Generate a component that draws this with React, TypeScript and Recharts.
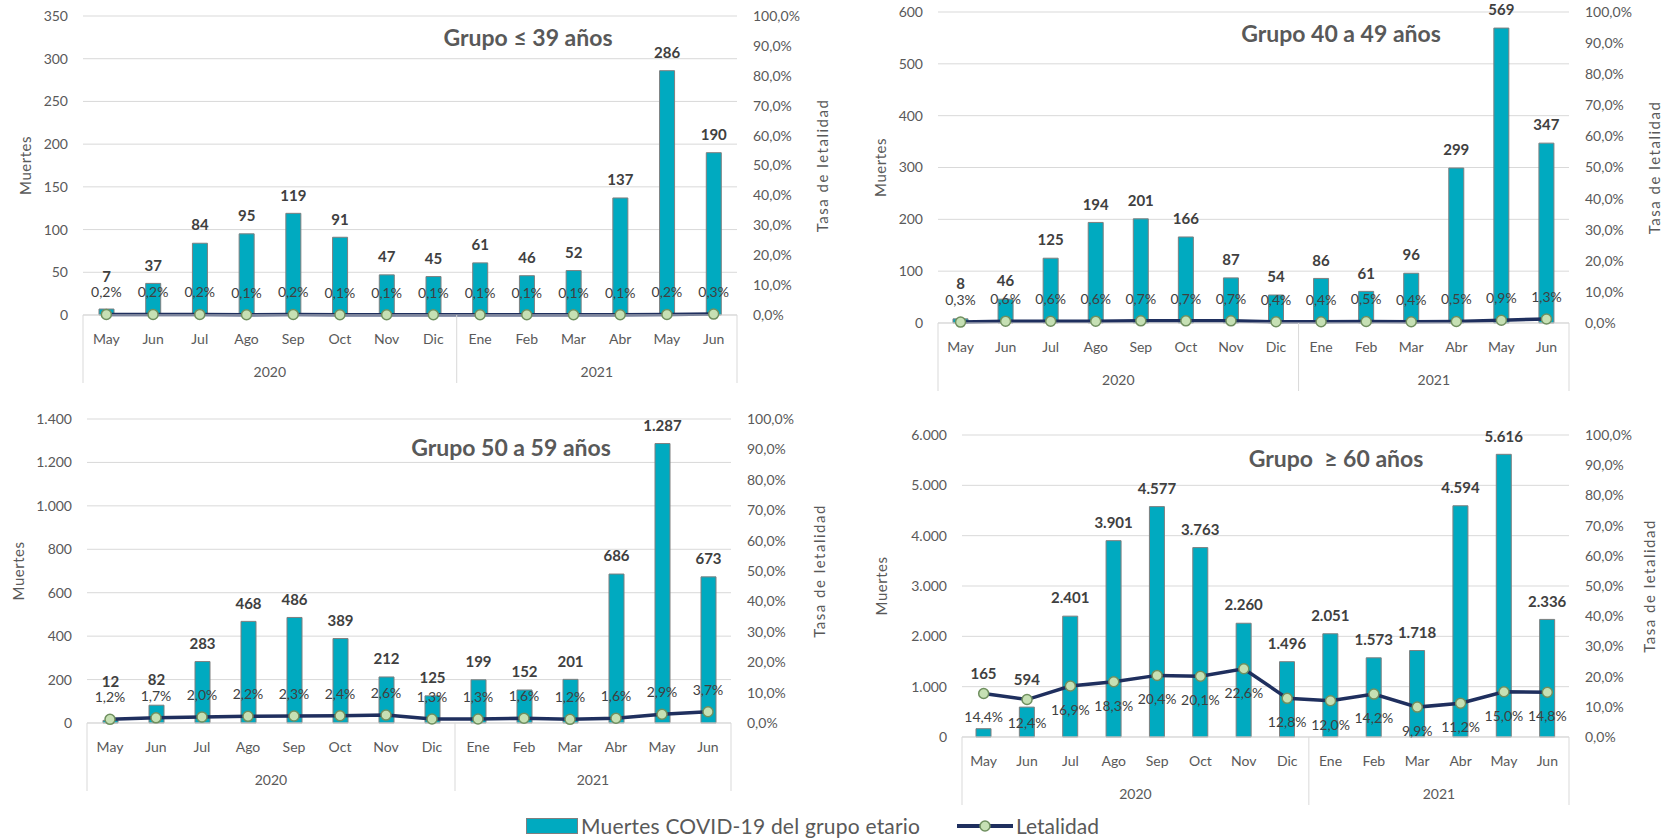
import React from 'react';
import { ComposedChart, Bar, Line, XAxis, YAxis, CartesianGrid, LabelList } from 'recharts';

// categories
const months = ['May', 'Jun', 'Jul', 'Ago', 'Sep', 'Oct', 'Nov', 'Dic', 'Ene', 'Feb', 'Mar', 'Abr', 'May', 'Jun'];
const yearGroups = [
  { label: '2020', from: 0, to: 7 },
  { label: '2021', from: 8, to: 13 },
];

// Grupo <= 39
const deaths39 = [7, 37, 84, 95, 119, 91, 47, 45, 61, 46, 52, 137, 286, 190];
const rate39 = [0.2, 0.2, 0.2, 0.1, 0.2, 0.1, 0.1, 0.1, 0.1, 0.1, 0.1, 0.1, 0.2, 0.3];
const ticks39 = [0, 50, 100, 150, 200, 250, 300, 350];

// Grupo 40-49
const deaths40 = [8, 46, 125, 194, 201, 166, 87, 54, 86, 61, 96, 299, 569, 347];
const rate40 = [0.3, 0.6, 0.6, 0.6, 0.7, 0.7, 0.7, 0.4, 0.4, 0.5, 0.4, 0.5, 0.9, 1.3];
const ticks40 = [0, 100, 200, 300, 400, 500, 600];

// Grupo 50-59
const deaths50 = [12, 82, 283, 468, 486, 389, 212, 125, 199, 152, 201, 686, 1287, 673];
const rate50 = [1.2, 1.7, 2.0, 2.2, 2.3, 2.4, 2.6, 1.3, 1.3, 1.6, 1.2, 1.6, 2.9, 3.7];
const ticks50 = [0, 200, 400, 600, 800, 1000, 1200, 1400];

// Grupo >= 60
const deaths60 = [165, 594, 2401, 3901, 4577, 3763, 2260, 1496, 2051, 1573, 1718, 4594, 5616, 2336];
const rate60 = [14.4, 12.4, 16.9, 18.3, 20.4, 20.1, 22.6, 12.8, 12.0, 14.2, 9.9, 11.2, 15.0, 14.8];
const ticks60 = [0, 1000, 2000, 3000, 4000, 5000, 6000];

const pctTicks = [0, 10, 20, 30, 40, 50, 60, 70, 80, 90, 100];

const TEAL = '#00AAC0';
const NAVY = '#1F2F5E';
const GRID = '#d9d9d9';
const AXIS_TXT = '#595959';
const LABEL_TXT = '#404040';
const FONT = 'Lato, "Liberation Sans", sans-serif';

const SIDE = 100;
const PAD_TOP = 20;
const AXIS_H = 80;

const fmtInt = (n: number) => String(n).replace(/\B(?=(\d{3})+(?!\d))/g, '.');
const fmtPct = (n: number) => n.toFixed(1).replace('.', ',') + '%';

const panels = [
  { title: 'Grupo ≤ 39 años', deaths: deaths39, rate: rate39, ticks: ticks39, below: false,
    box: { left: 83, right: 737, top: 16, bottom: 315 }, titlePos: [528, 37], muertesDx: 57, tasaDx: 86 },
  { title: 'Grupo 40 a 49 años', deaths: deaths40, rate: rate40, ticks: ticks40, below: false,
    box: { left: 938, right: 1569, top: 12, bottom: 323 }, titlePos: [1341, 33], muertesDx: 57, tasaDx: 86 },
  { title: 'Grupo 50 a 59 años', deaths: deaths50, rate: rate50, ticks: ticks50, below: false,
    box: { left: 87, right: 731, top: 419, bottom: 723 }, titlePos: [511, 447], muertesDx: 68, tasaDx: 89 },
  { title: 'Grupo  ≥ 60 años', deaths: deaths60, rate: rate60, ticks: ticks60, below: true,
    box: { left: 962, right: 1569, top: 435, bottom: 737 }, titlePos: [1336, 458], muertesDx: 80, tasaDx: 81 },
];

const pick = (p: any, k: string) => (typeof p[k] === 'number' ? p[k] : p.viewBox ? p.viewBox[k] : 0);

const MonthTick = (props: any) => {
  const { x, y, band } = props;
  const i = props.index ?? props.payload?.index ?? 0;
  const last = months.length - 1;
  return (
    <g>
      <text x={x} y={y + 24} dy="0.35em" textAnchor="middle" fontSize={14} fill={AXIS_TXT}>
        {months[i]}
      </text>
      {yearGroups.map((g) =>
        g.from === i ? (
          <g key={g.label}>
            <line x1={x - band / 2} x2={x - band / 2} y1={y} y2={y + 68} stroke={GRID} />
            <text x={x + ((g.to - g.from) * band) / 2} y={y + 57} dy="0.35em" textAnchor="middle" fontSize={14} fill={AXIS_TXT}>
              {g.label}
            </text>
          </g>
        ) : null
      )}
      {i === last && <line x1={x + band / 2} x2={x + band / 2} y1={y} y2={y + 68} stroke={GRID} />}
    </g>
  );
};

function Panel({ cfg }: { cfg: any }) {
  const { left, right, top, bottom } = cfg.box;
  const plotW = right - left;
  const plotH = bottom - top;
  const band = plotW / months.length;
  const yMax = cfg.ticks[cfg.ticks.length - 1];
  const data = months.map((m, i) => ({ key: `${i}-${m}`, deaths: cfg.deaths[i], rate: cfg.rate[i] }));
  const rateY = (r: number) => PAD_TOP + plotH * (1 - r / 100);

  const barLabel = (p: any) => {
    const x = pick(p, 'x');
    const y = pick(p, 'y');
    const w = pick(p, 'width');
    const i = p.index ?? 0;
    const ly = rateY(cfg.rate[i]);
    const obstacle = cfg.below ? ly - 20 : ly - 38;
    const cy = Math.min(y - 18, obstacle);
    return (
      <text x={x + w / 2} y={cy} dy="0.35em" textAnchor="middle" fontSize={15} fontWeight="bold" fill={LABEL_TXT}>
        {fmtInt(p.value)}
      </text>
    );
  };

  const rateLabel = (p: any) => {
    const x = pick(p, 'x');
    const y = pick(p, 'y');
    return (
      <text x={x} y={cfg.below ? y + 24 : y - 22} dy="0.35em" textAnchor="middle" fontSize={14} fill={LABEL_TXT}>
        {fmtPct(p.value)}
      </text>
    );
  };

  return (
    <div style={{ position: 'absolute', left: left - SIDE, top: top - PAD_TOP }}>
      <ComposedChart
        width={plotW + 2 * SIDE}
        height={plotH + PAD_TOP + AXIS_H}
        data={data}
        margin={{ top: PAD_TOP, right: 0, bottom: 0, left: 0 }}
        barSize={15}
      >
        <CartesianGrid yAxisId="left" vertical={false} stroke={GRID} />
        <XAxis
          dataKey="key"
          interval={0}
          height={AXIS_H}
          tickSize={0}
          tickMargin={0}
          tickLine={false}
          axisLine={{ stroke: GRID }}
          tick={(p: any) => <MonthTick {...p} band={band} />}
        />
        <YAxis
          yAxisId="left"
          width={SIDE}
          domain={[0, yMax]}
          ticks={cfg.ticks}
          tickFormatter={(v: number) => fmtInt(v)}
          axisLine={false}
          tickLine={false}
          tickSize={0}
          tickMargin={15}
          tick={{ fill: AXIS_TXT, fontSize: 14 }}
          label={(lp: any) => {
            const vb = lp.viewBox;
            const cx = vb.x + vb.width - cfg.muertesDx;
            const cy = vb.y + vb.height / 2;
            return (
              <text x={cx} y={cy} transform={`rotate(-90 ${cx} ${cy})`} textAnchor="middle" dy="0.35em" fontSize={15} fill={AXIS_TXT} letterSpacing={0.5}>
                Muertes
              </text>
            );
          }}
        />
        <YAxis
          yAxisId="right"
          orientation="right"
          width={SIDE}
          domain={[0, 100]}
          ticks={pctTicks}
          tickFormatter={(v: number) => fmtPct(v)}
          axisLine={false}
          tickLine={false}
          tickSize={0}
          tickMargin={16}
          tick={{ fill: AXIS_TXT, fontSize: 14 }}
          label={(lp: any) => {
            const vb = lp.viewBox;
            const cx = vb.x + cfg.tasaDx;
            const cy = vb.y + vb.height / 2;
            return (
              <text x={cx} y={cy} transform={`rotate(-90 ${cx} ${cy})`} textAnchor="middle" dy="0.35em" fontSize={15} fill={AXIS_TXT} letterSpacing={1.5}>
                Tasa de letalidad
              </text>
            );
          }}
        />
        <Bar yAxisId="left" dataKey="deaths" fill={TEAL} stroke="#7f7f7f" strokeWidth={1} isAnimationActive={false}>
          <LabelList dataKey="deaths" content={barLabel} />
        </Bar>
        <Line
          yAxisId="right"
          dataKey="rate"
          type="linear"
          stroke={NAVY}
          strokeWidth={3.5}
          dot={{ r: 5, fill: '#c6e0b4', stroke: '#6f8f5f', strokeWidth: 1.5 }}
          isAnimationActive={false}
        >
          <LabelList dataKey="rate" content={rateLabel} />
        </Line>
      </ComposedChart>
      <div
        style={{
          position: 'absolute',
          left: cfg.titlePos[0] - (left - SIDE),
          top: cfg.titlePos[1] - (top - PAD_TOP),
          transform: 'translate(-50%, -50%)',
          whiteSpace: 'pre',
          fontSize: 23,
          fontWeight: 'bold',
          color: AXIS_TXT,
        }}
      >
        {cfg.title}
      </div>
    </div>
  );
}

export default function App() {
  const legendText = { position: 'absolute' as const, top: 812, height: 28, lineHeight: '28px', fontSize: 21, color: AXIS_TXT, whiteSpace: 'nowrap' as const };
  return (
    <div
      style={{
        position: 'absolute',
        left: 0,
        top: 0,
        width: 1668,
        height: 840,
        background: '#fff',
        overflow: 'hidden',
        fontFamily: FONT,
      }}
    >
      {panels.map((p) => (
        <Panel key={p.title} cfg={p} />
      ))}
      <div style={{ position: 'absolute', left: 526, top: 818, width: 52, height: 16, background: TEAL, border: '1px solid #7f7f7f', boxSizing: 'border-box' }} />
      <div style={{ ...legendText, left: 581, letterSpacing: 0.2 }}>Muertes COVID-19 del grupo etario</div>
      <svg width={56} height={16} style={{ position: 'absolute', left: 957, top: 818 }}>
        <line x1={0} x2={56} y1={8} y2={8} stroke={NAVY} strokeWidth={4} />
        <circle cx={28} cy={8} r={5} fill="#c6e0b4" stroke="#6f8f5f" strokeWidth={1.5} />
      </svg>
      <div style={{ ...legendText, left: 1016 }}>Letalidad</div>
    </div>
  );
}
